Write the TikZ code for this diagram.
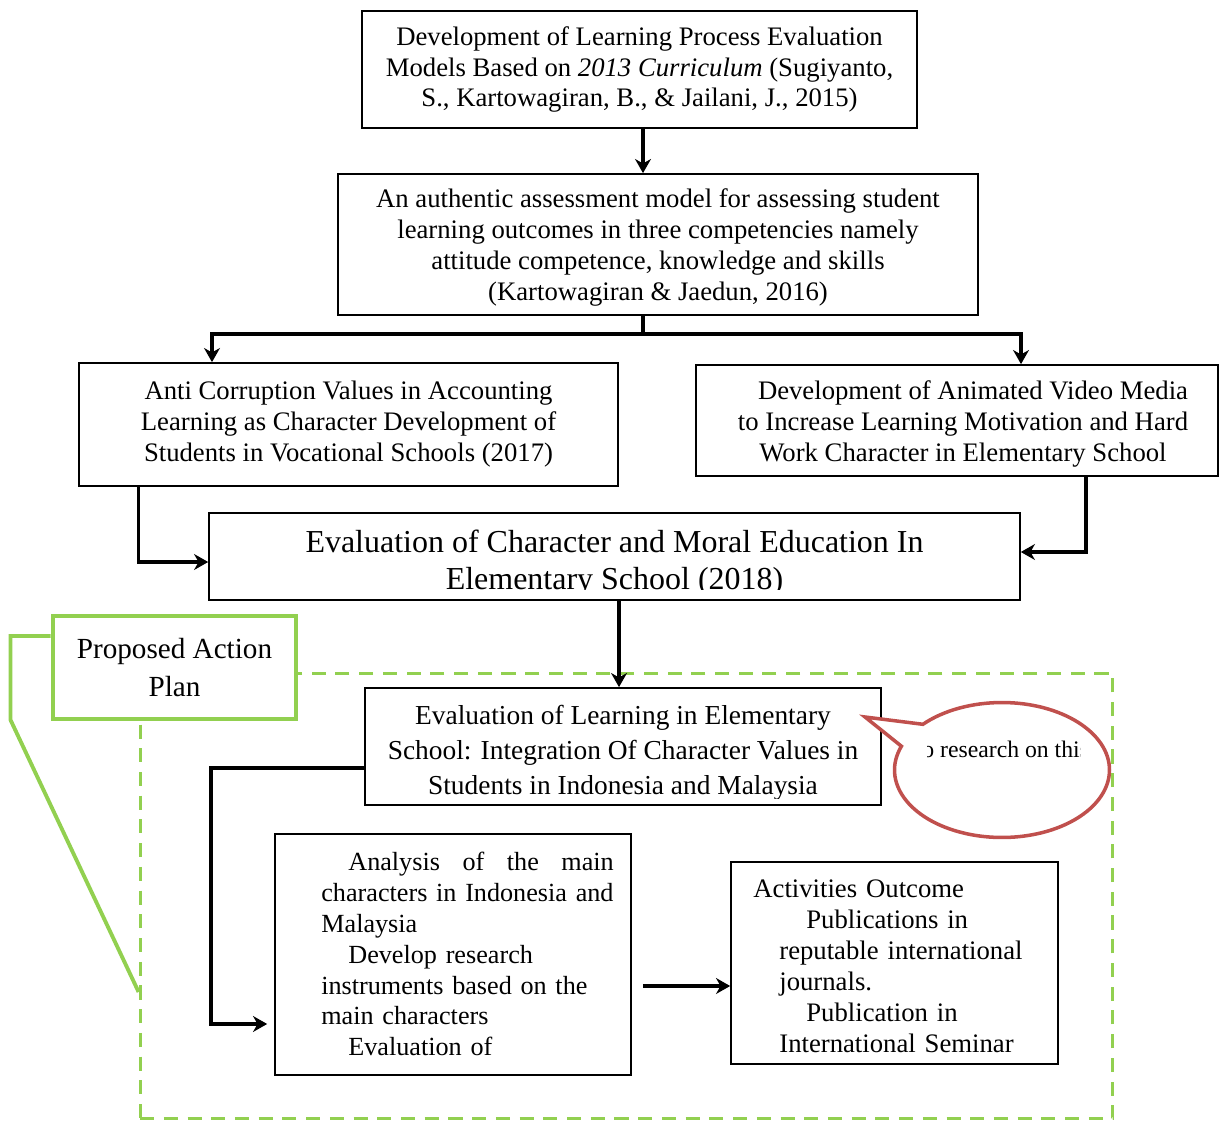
\documentclass[tikz,border=0pt]{standalone}
\usepackage{fontspec}
\setmainfont{Liberation Serif}
\usepackage{tikz}
\usetikzlibrary{calc, shapes, shapes.callouts, arrows, arrows.meta}
\definecolor{plangreen}{HTML}{92D050}
\definecolor{notered}{HTML}{C0504D}
\tikzstyle{stage} = [rectangle, draw, line width=1pt, align=center, inner sep=0pt, font=\fontsize{15.2}{17.6}\selectfont]
\tikzstyle{stagetext} = [inner sep=0pt, font=\fontsize{15.2}{17.6}\selectfont]
\tikzstyle{flow} = [line width=2.1pt, -{Stealth[length=8pt, width=9pt, inset=2.5pt]}]

\begin{document}
\begin{tikzpicture}[x=0.02cm, y=-0.02cm]
        \useasboundingbox (0,0) rectangle (1219,1121);

        \node[stage, minimum width=11.1cm, minimum height=2.34cm] at (639.5, 69.5) (Origin)
            {Development of Learning Process Evaluation\\ Models Based on \textit{2013 Curriculum} (Sugiyanto,\\ S., Kartowagiran, B., \& Jailani, J., 2015)};
        \node[stage, minimum width=12.8cm, minimum height=2.82cm] at (658, 244.5) (Authentic) {};
        \node[stagetext, align=center] at (658, 247.5) (AuthenticText)
            {An authentic assessment model for assessing student\\ learning outcomes in three competencies namely\\ attitude competence, knowledge and skills\\ (Kartowagiran \& Jaedun, 2016)};
        \node[stage, minimum width=10.78cm, minimum height=2.46cm] at (348.5, 424.5) (AntiCorruption)
            {Anti Corruption Values in Accounting\\ Learning as Character Development of\\ Students in Vocational Schools (2017)};
        \node[stage, minimum width=10.44cm, minimum height=2.22cm] at (957, 420.5) (AnimatedVideo) {};
        \node[stagetext, align=center] at (963, 424) (AnimatedVideoText)
            {\hspace*{0.4cm}Development of Animated Video Media\\ to Increase Learning Motivation and Hard\\ Work Character in Elementary School};

        \node[stage, minimum width=16.22cm, minimum height=1.74cm] at (614.5, 556.5) (CharacterMoral) {};
        \begin{scope}
            \clip (209, 513) rectangle (1020, 589);
            \node[stagetext, align=center, font=\fontsize{18.2}{21}\selectfont] at (614.5, 563) (CharacterMoralText)
                {Evaluation of Character and Moral Education In\\ Elementary School (2018)};
        \end{scope}

        % proposed plan area
        \node[stage, minimum width=10.32cm, minimum height=2.34cm] at (623, 746.5) (Integration) {};
        \begin{scope}
            \clip (365, 688) rectangle (881, 798);
            \node[stagetext, align=center, font=\fontsize{15.6}{19.8}\selectfont] at (623, 753) (IntegrationText)
                {Evaluation of Learning in Elementary\\ School: Integration Of Character Values in\\ Students in Indonesia and Malaysia};
        \end{scope}
        \node[ellipse callout, draw=notered, line width=2pt, fill=white, minimum width=4.3cm, minimum height=2.7cm,
            callout absolute pointer={(865, 717)}, callout pointer arc=22] at (1002, 770) (Note) {};
        \begin{scope}
            \clip (927, 730) rectangle (1080, 775);
            \node[inner sep=0pt, anchor=base west, font=\fontsize{13.5}{16}\selectfont] at (922, 757) (NoteText) {o research on this};
        \end{scope}
        \node[draw=plangreen, line width=1.7pt, dash pattern=on 8pt off 5.5pt, minimum width=19.46cm, minimum height=8.92cm]
            at (626.5, 896) (PlanArea) {};

        \node[stage, minimum width=7.12cm, minimum height=4.82cm] at (453, 954.5) (Analysis) {};
        \begin{scope}
            \clip (275, 834) rectangle (631, 1068);
            \node[stagetext, anchor=west, text width=5.85cm, align=left, font=\fontsize{14.9}{17.6}\selectfont] at (321, 954) (AnalysisText)
                {\hspace*{0.54cm}Analysis\hfill of\hfill the\hfill main\\
                 characters in Indonesia and\\
                 Malaysia\\
                 \hspace*{0.54cm}Develop research\\
                 instruments based on the\\
                 main characters\\
                 \hspace*{0.54cm}Evaluation of};
        \end{scope}

        \node[stage, minimum width=6.54cm, minimum height=4.04cm] at (894.5, 963) (Outcome) {};
        \node[stagetext, anchor=west, text width=5.6cm, align=left] at (753, 966) (OutcomeText)
            {Activities Outcome\\
             \hspace*{1.06cm}Publications in\\
             \hspace*{0.52cm}reputable international\\
             \hspace*{0.52cm}journals.\\
             \hspace*{1.06cm}Publication in\\
             \hspace*{0.52cm}International Seminar};

        \node[draw=plangreen, line width=2.8pt, fill=white, minimum width=4.86cm, minimum height=2.06cm, align=center,
            inner sep=0pt, font=\fontsize{16.6}{21.5}\selectfont] at (174.5, 667.5) (Plan) {Proposed Action\\ Plan};
        \draw[plangreen, line width=2.2pt] ([yshift=0.63cm]Plan.west) -| ++(-40, 84) -- ([yshift=-1.92cm]PlanArea.west);

        % connectors
        \coordinate (Split) at (643, 334);
        \coordinate (LeftRail) at (212, 0);
        \coordinate (RightRail) at (1021, 0);
        \draw[flow] (Origin.south -| Split) -- (Split |- Authentic.north);
        \draw[line width=2.4pt] (Authentic.south -| Split) -- (Split);
        \draw[flow, line width=2.4pt] (Split) -| (LeftRail |- AntiCorruption.north);
        \draw[flow, line width=2.4pt] (Split) -| (RightRail |- AnimatedVideo.north);

        \draw[flow] ([xshift=-4.2cm]AntiCorruption.south) |- ([yshift=-0.11cm]CharacterMoral.west);
        \draw[flow] ([xshift=2.58cm]AnimatedVideo.south) |- ([yshift=0.09cm]CharacterMoral.east);
        \draw[flow] ([xshift=0.09cm]CharacterMoral.south) -- ([xshift=0.09cm]CharacterMoral.south |- Integration.north);

        \draw[flow] ([yshift=-0.43cm]Integration.west) -| ([xshift=-1.26cm, yshift=-1.39cm]Analysis.west)
            -- ([xshift=-0.14cm, yshift=-1.39cm]Analysis.west);
        \draw[flow] ([xshift=0.22cm, yshift=-0.63cm]Analysis.east) -- ([yshift=-0.63cm]Analysis.east -| Outcome.west);
    \end{tikzpicture}
\end{document}
